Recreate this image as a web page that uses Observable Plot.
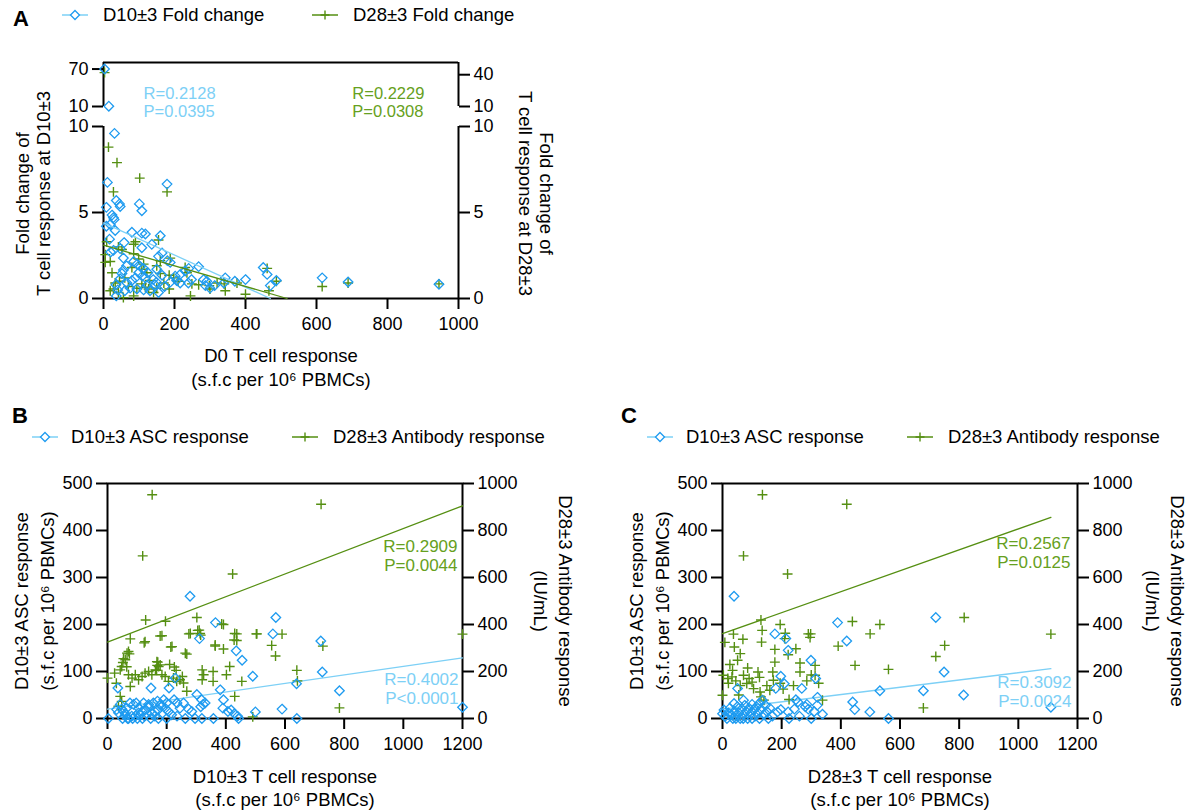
<!DOCTYPE html>
<html><head><meta charset="utf-8">
<script src="https://cdn.jsdelivr.net/npm/d3@7"></script>
<script src="https://cdn.jsdelivr.net/npm/@observablehq/plot@0.6"></script>
<style>
html,body{margin:0;padding:0;background:#fff;}
#root{position:relative;width:1195px;height:811px;overflow:hidden;font-family:"Liberation Sans",Arial,Helvetica,sans-serif;color:#000;}
svg{overflow:visible;}
.plabel{position:absolute;font-weight:bold;font-size:22px;line-height:1;}
.legend{position:absolute;display:flex;align-items:center;white-space:nowrap;font-size:18.5px;line-height:1;}
.legend .sw{display:block;}
</style></head><body><div id="root"></div>
<script>
// ---------------- data ----------------
const xTicksA = [0, 200, 400, 600, 800, 1000];
const yTicksALower = [0, 5, 10];
const yTicksAUpperLeft = [10, 70];
const yTicksAUpperRight = [10, 40];
const xTicksBC = [0, 200, 400, 600, 800, 1000, 1200];
const yTicksLeftBC = [0, 100, 200, 300, 400, 500];
const yTicksRightBC = [0, 200, 400, 600, 800, 1000];

// Panel A: D0 T cell response (x) vs fold change
const aD10Fold = [[3,70],[15,10.5],
[31,9.6],[11,6.75],[179,6.65],[8,5.3],[101,5.5],[108,5.1],[36,5.7],[45,5.5],[47,5.35],[24,4.85],[28,4.7],[30,4.6],[19,4.3],[8,4.2],[33,3.95],[80,3.85],[108,3.8],[118,3.75],[160,3.65],[17,3.45],[58,3.25],[28,2.8],[20,2.7],[47,2.9],[108,2.95],[136,3.15],[155,2.45],[165,2.65],[56,2.35],[85,2.15],[95,2.0],[104,1.85],[113,1.75],[99,1.5],[109,1.3],[118,1.2],[90,1.2],[80,1.05],[66,0.9],[52,1.45],[47,1.15],[56,1.65],[65,1.9],[188,2.1],[180,2.2],[268,1.85],[240,1.75],[230,1.6],[216,1.4],[202,1.3],[188,0.95],[140,1.1],[149,0.95],[145,0.8],[248,1.1],[239,0.9],[216,0.9],[206,1.05],[282,1.1],[291,1.0],[287,0.75],[343,1.2],[339,0.9],[370,1.0],[400,1.1],[450,1.8],[461,1.4],[470,0.75],[487,1.05],[616,1.2],[689,0.96],[945,0.83],[36,0.15],[155,0.35],[131,0.45],[113,0.5],[94,0.55],[75,0.6],[122,0.75],[172,0.7],[300,0.6],[313,0.75],[35,0.8],[40,0.5],[60,0.45],[165,1.35],[150,1.7],[125,1.5]];
const aD28Fold = [[3,42],
[14,8.8],[38,7.9],[102,7.0],[179,6.2],[28,6.2],[9,3.3],[90,3.3],[85,3.15],[42,3.0],[52,2.85],[155,3.4],[188,2.35],[160,2.2],[150,1.9],[85,2.6],[99,2.3],[113,2.0],[80,1.8],[108,1.7],[122,1.5],[5,2.55],[19,2.15],[5,2.1],[24,1.5],[33,0.9],[28,0.55],[19,0.45],[42,0.35],[56,0.05],[85,0.15],[185,1.35],[185,0.55],[230,1.8],[235,1.5],[249,0.85],[245,0.15],[268,0.8],[298,0.75],[300,0.55],[340,0.85],[343,0.45],[376,0.9],[400,0.25],[461,1.75],[466,0.45],[487,1.0],[616,0.7],[689,0.9],[945,0.85],[108,0.85],[118,0.65],[94,0.6],[127,0.55],[141,0.35],[150,0.6],[170,0.9],[198,1.2],[60,1.2],[70,0.7],[45,1.0],[130,1.05],[210,1.0],[160,1.45],[320,0.9]];
const aD10Fit = [[0,4.4],[470,0]];
const aD28Fit = [[0,3.1],[517,0]];
const aD10Stats = "R=0.2128\nP=0.0395";
const aD28Stats = "R=0.2229\nP=0.0308";

// Panel B: D10±3 T cell response (x) vs ASC (left) and antibody (right)
const bASC = [[279,260],[569,215],[365,204],[559,180],[311,170],[721,165],[435,144],[455,124],[491,90],[726,99],[784,59],[639,74],[640,0],[590,20],[500,14],[1200,24],
[35,65],[147,65],[208,65],[229,86],[381,61],[392,40],[302,51],[318,40],[323,30],[315,25],[330,33],[257,33],[245,22],[274,20],[285,15],[235,5],[263,0],[296,0],[319,0],[358,0],[390,22],[407,15],[418,18],[429,10],[440,5],[443,0],[225,40],[235,33],[190,40],[200,33],[183,26],[172,19],[160,15],[139,26],[128,19],[117,15],[105,12],[94,5],[82,5],[71,0],[60,5],[37,12],[31,19],[43,30],[48,20],[65,22],[76,33],[88,30],[97,33],[105,22],[122,33],[139,30],[155,33],[169,37],[180,30],[195,22],[206,15],[217,8],[200,0],[172,0],[146,0],[118,0],[101,0],[85,0],[68,0],[51,0],[3,0],[60,10],[110,8],[150,10],[125,5],[160,5],[55,15]];
const bAb = [[151,952],[722,912],[119,692],[423,615],[129,419],[196,414],[302,430],[386,402],[392,400],[275,360],[305,375],[313,362],[178,351],[77,339],[124,322],[437,360],[437,332],[503,360],[590,359],[555,311],[568,266],[728,308],[1200,359],[214,304],[268,274],[364,308],[392,296],[74,275],[54,255],[52,238],[65,220],[170,240],[168,226],[166,205],[210,230],[226,219],[232,205],[0,172],[30,150],[24,193],[43,207],[48,221],[60,250],[66,278],[71,285],[127,327],[184,352],[218,306],[263,278],[280,362],[310,376],[315,355],[364,313],[430,362],[428,334],[505,360],
[71,186],[77,136],[83,172],[94,186],[105,165],[117,179],[127,193],[139,200],[150,186],[162,207],[173,221],[167,242],[178,228],[184,186],[195,179],[206,158],[223,172],[234,158],[245,165],[257,151],[268,116],[253,179],[320,207],[325,186],[320,165],[357,200],[357,158],[402,186],[413,221],[454,158],[430,94],[491,7],[640,205],[642,160],[784,45],[43,94],[48,73],[37,52]];
const bASCFit = [[0,20],[1200,129]];
const bAbFit = [[0,325],[1200,905]];
const bASCStats = "R=0.4002\nP<0.0001";
const bAbStats = "R=0.2909\nP=0.0044";

// Panel C: D28±3 T cell response (x) vs ASC (left) and antibody (right)
const cASC = [[39,260],[721,215],[389,204],[177,180],[420,165],[214,170],[222,145],[299,124],[315,85],[197,90],[209,74],[749,99],[815,50],[679,59],[532,59],[51,64],[180,64],[268,64],[248,40],[321,45],[440,35],[447,19],[498,14],[561,0],[1110,24],[338,9],[290,20],[285,30],[280,25],[243,20],[222,14],[225,0],[186,14],[197,19],[169,5],[39,32],[71,39],[135,39],[124,32],
[0,10],[5,18],[10,5],[15,0],[20,12],[25,22],[30,8],[35,0],[40,15],[45,5],[50,25],[55,12],[60,0],[65,20],[70,8],[75,28],[80,15],[85,0],[90,22],[95,10],[100,30],[105,18],[110,5],[115,25],[120,12],[125,0],[130,20],[140,8],[145,28],[150,15],[155,0],[160,22],[100,0],[70,0],[45,0],[260,5],[300,0],[310,15],[320,28],[255,35]];
const cAb = [[135,952],[420,912],[71,692],[220,615],[130,419],[134,375],[132,325],[195,400],[290,360],[298,360],[296,345],[212,363],[210,340],[37,359],[69,337],[8,324],[40,304],[60,276],[51,248],[34,205],[439,413],[532,400],[499,360],[391,308],[448,226],[561,209],[751,311],[721,264],[817,430],[1110,359],[679,45],[177,294],[177,240],[222,271],[248,297],[262,236],[262,198],[313,226],[313,184],[170,198],[172,163],[120,198],[125,175],[127,113],[105,127],[82,149],[71,184],[3,184],[18,170],[32,177],[225,81],[338,78],[0,99],[130,92],[140,78],[20,150],[45,160],[60,140],[90,170],[100,155],[150,140],[160,120],[195,150],[205,125],[240,140],[285,160],[300,185],[325,150],[55,100],[25,230],[85,215]];
const cASCFit = [[0,20],[1110,106]];
const cAbFit = [[0,361],[1110,856]];
const cASCStats = "R=0.3092\nP=0.0024";
const cAbStats = "R=0.2567\nP=0.0125";

// ---------------- styling ----------------
const FONT = '"Liberation Sans", Arial, Helvetica, sans-serif';
const BLUE = "#1e9bf0", LBLUE = "#7dd0f6", GREEN = "#558f12", GREEN_T = "#66a020";
const root = document.getElementById("root");
const baseStyle = {background: "transparent", fontFamily: FONT, fontSize: "18px", color: "#000", overflow: "visible"};
const fmt = d => String(Math.round(d));
const DIA = {symbol: "diamond2", r: 4.3, fill: "none", stroke: BLUE, strokeWidth: 1.3};
const PLUS = {symbol: "plus", r: 3.3, stroke: GREEN, strokeWidth: 1.4};

function put(node, left, top) {
  node.style.position = "absolute";
  node.style.left = left + "px";
  node.style.top = top + "px";
  root.appendChild(node);
  return node;
}
function label(txt, left, top) {
  const d = document.createElement("div");
  d.className = "plabel"; d.textContent = txt;
  d.style.left = left + "px"; d.style.top = top + "px";
  root.appendChild(d);
}
function swatch(kind) {
  const ns = "http://www.w3.org/2000/svg";
  const s = document.createElementNS(ns, "svg");
  s.setAttribute("width", 26); s.setAttribute("height", 16); s.setAttribute("class", "sw");
  s.style.overflow = "visible";
  const l = document.createElementNS(ns, "line");
  l.setAttribute("x1", 0); l.setAttribute("x2", 26); l.setAttribute("y1", 8); l.setAttribute("y2", 8);
  l.setAttribute("stroke", kind === "d" ? LBLUE : GREEN); l.setAttribute("stroke-width", 1.5);
  s.appendChild(l);
  const p = document.createElementNS(ns, "path");
  if (kind === "d") {
    p.setAttribute("d", "M13,3.5L17.5,8L13,12.5L8.5,8Z");
    p.setAttribute("fill", "#fff"); p.setAttribute("stroke", BLUE); p.setAttribute("stroke-width", 1.3);
  } else {
    p.setAttribute("d", "M13,3.5V12.5M8.5,8H17.5");
    p.setAttribute("stroke", GREEN); p.setAttribute("stroke-width", 1.4);
  }
  s.appendChild(p);
  return s;
}
function legend(items, top) {
  for (const it of items) {
    const d = document.createElement("div");
    d.className = "legend";
    d.style.left = it.sw + "px"; d.style.top = top + "px";
    d.appendChild(swatch(it.kind));
    const t = document.createElement("span");
    t.textContent = it.text;
    t.style.marginLeft = (it.tx - it.sw - 26) + "px";
    d.appendChild(t);
    root.appendChild(d);
  }
}

// ---------------- Panel A ----------------
label("A", 13, 8);
legend([
  {kind: "d", sw: 62, tx: 103, text: "D10±3 Fold change"},
  {kind: "p", sw: 312, tx: 353, text: "D28±3 Fold change"}
], 6);

// upper (broken) section; right-axis values mapped onto the left-axis scale
const UP_TOP = 80.5;
const UP_R = 1.698; // right-axis units -> left-axis units in the upper section
const upR = v => 10 + (v - 10) * UP_R;

const upper = Plot.plot({
  width: 600, height: 90,
  marginLeft: 103, marginRight: 142, marginTop: 32, marginBottom: 14,
  style: baseStyle,
  x: {domain: [0, 1000], axis: null},
  y: {domain: [10, UP_TOP]},
  marks: [
    Plot.ruleY([UP_TOP], {stroke: "#000", strokeWidth: 2}),
    Plot.ruleX([0, 1000], {stroke: "#000", strokeWidth: 2}),
    Plot.axisY({ticks: yTicksAUpperLeft, tickSize: 11, tickPadding: 4, strokeWidth: 2, tickFormat: fmt, label: null, fontSize: 18}),
    Plot.axisY({anchor: "right", ticks: yTicksAUpperRight.map(upR), tickSize: 11, tickPadding: 4, strokeWidth: 2, tickFormat: v => fmt(10 + (v - 10) / UP_R), label: null, fontSize: 18}),
    Plot.text([aD10Stats], {x: 113, y: 16.4, textAnchor: "start", lineAnchor: "middle", lineHeight: 1.1, fill: LBLUE, fontSize: 16.5}),
    Plot.text([aD28Stats], {x: 701, y: 16.4, textAnchor: "start", lineAnchor: "middle", lineHeight: 1.1, fill: GREEN_T, fontSize: 16.5}),
    Plot.dot(aD28Fold.filter(d => d[1] > 10), {x: d => d[0], y: d => upR(d[1]), ...PLUS}),
    Plot.dot(aD10Fold.filter(d => d[1] > 10), {x: d => d[0], y: d => d[1], ...DIA})
  ]
});
put(upper, 0, 30);

const lower = Plot.plot({
  width: 600, height: 270,
  marginLeft: 103, marginRight: 142, marginTop: 6, marginBottom: 92,
  style: baseStyle,
  x: {domain: [0, 1000]},
  y: {domain: [0, 10]},
  marks: [
    Plot.ruleX([0, 1000], {stroke: "#000", strokeWidth: 2}),
    Plot.ruleY([0], {stroke: "#000", strokeWidth: 2}),
    Plot.axisX({ticks: xTicksA, tickSize: 11, tickPadding: 8, strokeWidth: 2, tickFormat: fmt, label: null, fontSize: 18}),
    Plot.axisY({ticks: yTicksALower, tickSize: 11, tickPadding: 4, strokeWidth: 2, tickFormat: fmt, label: null, fontSize: 18}),
    Plot.axisY({anchor: "right", ticks: yTicksALower, tickSize: 11, tickPadding: 4, strokeWidth: 2, tickFormat: fmt, label: null, fontSize: 18}),
    Plot.dot(aD28Fold.filter(d => d[1] <= 10), {x: d => d[0], y: d => d[1], ...PLUS}),
    Plot.dot(aD10Fold.filter(d => d[1] <= 10), {x: d => d[0], y: d => d[1], ...DIA}),
    Plot.line(aD10Fit, {x: d => d[0], y: d => d[1], stroke: LBLUE, strokeWidth: 1.3}),
    Plot.line(aD28Fit, {x: d => d[0], y: d => d[1], stroke: GREEN, strokeWidth: 1.3}),
    Plot.text(["Fold change of\nT cell response at D10±3"], {frameAnchor: "left", textAnchor: "middle", rotate: -90, dx: -71, dy: -19, lineAnchor: "middle", lineHeight: 1.15, fontSize: 18.5}),
    Plot.text(["Fold change of\nT cell response at D28±3"], {frameAnchor: "right", textAnchor: "middle", rotate: 90, dx: 78, dy: -19, lineAnchor: "middle", lineHeight: 1.15, fontSize: 18.5}),
    Plot.text(["D0 T cell response\n(s.f.c per 10⁶ PBMCs)"], {frameAnchor: "bottom", textAnchor: "middle", dy: 67.5, lineAnchor: "middle", lineHeight: 1.35, fontSize: 18.5})
  ]
});
put(lower, 0, 120);

// ---------------- Panels B and C ----------------
const K = 500 / 1000; // antibody (right axis) -> ASC (left axis) units
function dualPanel(o) {
  const svg = Plot.plot({
    width: o.width, height: 351,
    marginLeft: 107, marginRight: o.width - 107 - 355, marginTop: 23, marginBottom: 93,
    style: baseStyle,
    x: {domain: [0, 1200]},
    y: {domain: [0, 500]},
    marks: [
      Plot.frame({stroke: "#000", strokeWidth: 2}),
      Plot.axisX({ticks: xTicksBC, tickSize: 11, tickPadding: 8, strokeWidth: 2, tickFormat: fmt, label: null, fontSize: 18}),
      Plot.axisY({ticks: yTicksLeftBC, tickSize: 11, tickPadding: 4, strokeWidth: 2, tickFormat: fmt, label: null, fontSize: 18}),
      Plot.axisY({anchor: "right", ticks: yTicksRightBC.map(v => v * K), tickSize: 11, tickPadding: 4, strokeWidth: 2, tickFormat: v => fmt(v / K), label: null, fontSize: 18}),
      Plot.line(o.abFit, {x: d => d[0], y: d => d[1] * K, stroke: GREEN, strokeWidth: 1.3}),
      Plot.line(o.ascFit, {x: d => d[0], y: d => d[1], stroke: LBLUE, strokeWidth: 1.3}),
      Plot.dot(o.ab, {x: d => d[0], y: d => d[1] * K, ...PLUS}),
      Plot.dot(o.asc, {x: d => d[0], y: d => d[1], ...DIA}),
      Plot.text([o.abStats], {x: 1200, y: o.abStatsY, dx: o.sdx, textAnchor: "end", lineAnchor: "middle", lineHeight: 1.12, fill: GREEN_T, fontSize: 17}),
      Plot.text([o.ascStats], {x: 1200, y: o.ascStatsY, dx: o.sdx + 1, textAnchor: "end", lineAnchor: "middle", lineHeight: 1.12, fill: LBLUE, fontSize: 17}),
      Plot.text(["D10±3 ASC response\n(s.f.c per 10⁶ PBMCs)"], {frameAnchor: "left", textAnchor: "middle", rotate: -90, dx: -75, lineAnchor: "middle", lineHeight: 1.4, fontSize: 18.5}),
      Plot.text(["D28±3 Antibody response\n(IU/mL)"], {frameAnchor: "right", textAnchor: "middle", rotate: 90, dx: o.rdx, lineAnchor: "middle", lineHeight: 1.35, fontSize: 18.5}),
      Plot.text([o.xTitle + "\n(s.f.c per 10⁶ PBMCs)"], {frameAnchor: "bottom", textAnchor: "middle", dy: 68.5, lineAnchor: "middle", lineHeight: 1.25, fontSize: 18.5})
    ]
  });
  put(svg, o.left, 460);
}

label("B", 12, 405);
legend([
  {kind: "d", sw: 32, tx: 71, text: "D10±3 ASC response"},
  {kind: "p", sw: 292, tx: 333, text: "D28±3 Antibody response"}
], 428);
dualPanel({left: 0, width: 600, asc: bASC, ab: bAb, ascFit: bASCFit, abFit: bAbFit,
  ascStats: bASCStats, abStats: bAbStats, ascStatsY: 63, abStatsY: 348, sdx: -5, rdx: 92,
  xTitle: "D10±3 T cell response"});

label("C", 621, 405);
legend([
  {kind: "d", sw: 647, tx: 686, text: "D10±3 ASC response"},
  {kind: "p", sw: 907, tx: 948, text: "D28±3 Antibody response"}
], 428);
dualPanel({left: 615, width: 580, asc: cASC, ab: cAb, ascFit: cASCFit, abFit: cAbFit,
  ascStats: cASCStats, abStats: cAbStats, ascStatsY: 57, abStatsY: 353, sdx: -7, rdx: 89,
  xTitle: "D28±3 T cell response"});
</script></body></html>
